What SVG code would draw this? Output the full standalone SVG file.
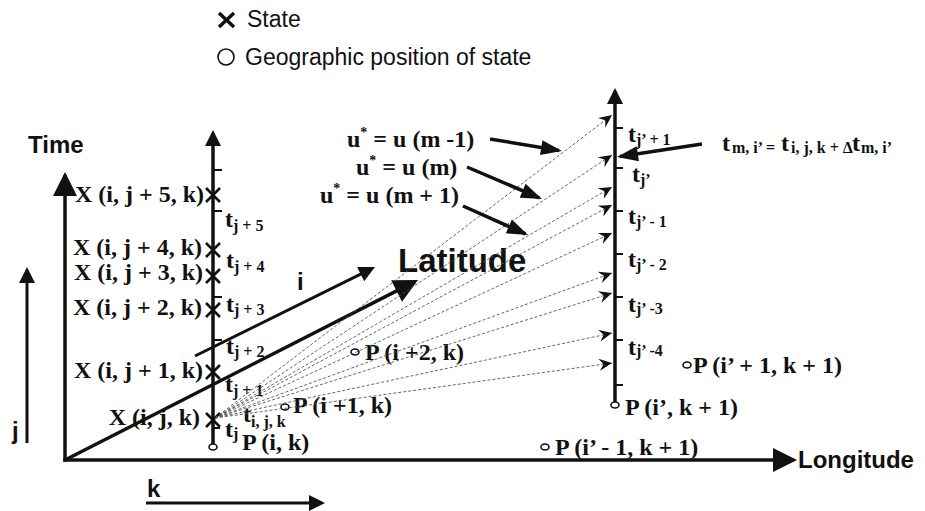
<svg xmlns="http://www.w3.org/2000/svg" width="925" height="511" viewBox="0 0 925 511">
<style>
.ln{stroke:#111;fill:none;stroke-linecap:butt}
.ax{stroke-width:3.5}
.th{stroke-width:3}
.tk{stroke:#111;stroke-width:2}
.dash{stroke:#555;stroke-width:0.9;stroke-dasharray:3 2;fill:none}
.cross{stroke:#111;stroke-width:2.6}
.dot{fill:#fff;stroke:#111;stroke-width:1.6}
.hd{fill:#111;stroke:none}
.sv{font-family:"Liberation Serif","Times New Roman",serif;font-weight:bold;font-size:24px;fill:#111}
.sub{font-size:16px}
.sup{font-size:14px}
.sans{font-family:"Liberation Sans",Arial,sans-serif;font-weight:bold;font-size:24px;fill:#111}
.leg{font-family:"Liberation Sans",Arial,sans-serif;font-size:23px;fill:#111}
</style>
<defs>
<marker id="ahBig" viewBox="-26 -13 28 26" refX="-3" refY="0" markerWidth="28" markerHeight="26" markerUnits="userSpaceOnUse" orient="auto"><path class="hd" d="M0,0 L-24,-12 L-24,12 z"/></marker>
<marker id="ahMed" viewBox="-18 -9 20 18" refX="-3" refY="0" markerWidth="20" markerHeight="18" markerUnits="userSpaceOnUse" orient="auto"><path class="hd" d="M0,0 L-16,-8 L-16,8 z"/></marker>
<marker id="ahU" viewBox="-23 -9 25 18" refX="-3" refY="0" markerWidth="25" markerHeight="18" markerUnits="userSpaceOnUse" orient="auto"><path class="hd" d="M0,0 L-21,-7.5 L-21,7.5 z"/></marker>
<marker id="ahDash" viewBox="-15 -7 17 14" refX="0" refY="0" markerWidth="17" markerHeight="14" markerUnits="userSpaceOnUse" orient="auto"><path class="hd" d="M0,0 L-13,-6 L-8.5,0 L-13,6 z"/></marker>
</defs>
<rect width="925" height="511" fill="#fff"/>

<g id="legend">
<line class="cross" x1="219" y1="13" x2="234" y2="27" style="stroke-width:3.5"/>
<line class="cross" x1="234" y1="13" x2="219" y2="27" style="stroke-width:3.5"/>
<text class="leg" x="247" y="27">State</text>
<circle class="dot" cx="226" cy="57" r="8"/>
<text class="leg" x="245" y="65">Geographic position of state</text>
</g>

<g id="main-axes">
<line class="ln ax" x1="65" y1="461.7" x2="65" y2="175" marker-end="url(#ahBig)"/>
<line class="ln ax" x1="63.3" y1="460" x2="794" y2="460" marker-end="url(#ahBig)"/>
<line class="ln ax" x1="65" y1="460" x2="415.3" y2="281.4" marker-end="url(#ahBig)"/>
<text class="sans" x="28" y="153">Time</text>
<text class="sans" x="798" y="468">Longitude</text>
<text class="sans" x="398" y="272" style="font-size:33px">Latitude</text>
</g>

<g id="direction-arrows">
<line class="ln th" x1="195" y1="356" x2="372.3" y2="268.3" marker-end="url(#ahMed)"/>
<text class="sans" x="297" y="290">i</text>
<line class="ln th" x1="27" y1="443" x2="27" y2="270" marker-end="url(#ahMed)"/>
<text class="sans" x="12" y="439">j</text>
<line class="ln th" x1="146" y1="503" x2="322" y2="503" marker-end="url(#ahMed)"/>
<text class="sans" x="147" y="497">k</text>
</g>

<g id="time-axis-left">
<line class="ln ax" x1="213" y1="444" x2="213" y2="133" marker-end="url(#ahMed)"/>
<line class="tk" x1="213" y1="170" x2="222" y2="170"/>
<line class="tk" x1="213" y1="211" x2="222" y2="211"/>
<line class="tk" x1="213" y1="297" x2="222" y2="297"/>
<line class="tk" x1="213" y1="340" x2="222" y2="340"/>
<line class="tk" x1="213" y1="428" x2="220" y2="428"/>
<ellipse class="dot" cx="213" cy="447" rx="4" ry="3"/>
</g>

<g id="states">
<path class="cross" d="M206,188 L220,202 M220,188 L206,202"/>
<path class="cross" d="M206,243 L220,257 M220,243 L206,257"/>
<path class="cross" d="M206,269 L220,283 M220,269 L206,283"/>
<path class="cross" d="M206,303 L220,317 M220,303 L206,317"/>
<path class="cross" d="M206,365 L220,379 M220,365 L206,379"/>
<path class="cross" d="M206,413 L220,427 M220,413 L206,427"/>
<text class="sv" x="204" y="202" text-anchor="end">X (i, j + 5, k)</text>
<text class="sv" x="202" y="255" text-anchor="end">X (i, j + 4, k)</text>
<text class="sv" x="203" y="280" text-anchor="end">X (i, j + 3, k)</text>
<text class="sv" x="202" y="315" text-anchor="end">X (i, j + 2, k)</text>
<text class="sv" x="203" y="378" text-anchor="end">X (i, j + 1, k)</text>
<text class="sv" x="200" y="425" text-anchor="end">X (i, j, k)</text>
</g>

<g id="time-labels-left">
<text class="sv" x="225" y="227">t<tspan class="sub" dy="4">j + 5</tspan></text>
<text class="sv" x="226" y="268">t<tspan class="sub" dy="4">j + 4</tspan></text>
<text class="sv" x="226" y="312">t<tspan class="sub" dy="3">j + 3</tspan></text>
<text class="sv" x="226" y="354">t<tspan class="sub" dy="3">j + 2</tspan></text>
<text class="sv" x="225" y="392">t<tspan class="sub" dy="4">j + 1</tspan></text>
<text class="sv" x="243" y="422">t<tspan class="sub" dy="5">i, j, k</tspan></text>
<text class="sv" x="225" y="437">t<tspan class="sub" dy="2">j</tspan></text>
<text class="sv" x="242" y="450">P (i, k)</text>
</g>

<g id="time-axis-right">
<line class="ln ax" x1="615" y1="402" x2="615" y2="91" marker-end="url(#ahMed)"/>
<line class="tk" x1="615" y1="128" x2="623" y2="128"/>
<line class="tk" x1="615" y1="168" x2="623" y2="168"/>
<line class="tk" x1="615" y1="211" x2="623" y2="211"/>
<line class="tk" x1="615" y1="254" x2="623" y2="254"/>
<line class="tk" x1="615" y1="297" x2="623" y2="297"/>
<line class="tk" x1="615" y1="340" x2="623" y2="340"/>
<line class="tk" x1="615" y1="385" x2="623" y2="385"/>
<ellipse class="dot" cx="615" cy="405" rx="4" ry="3"/>
<text class="sv" x="628" y="142">t<tspan class="sub" dy="3">j’ + 1</tspan></text>
<text class="sv" x="632" y="182">t<tspan class="sub" dy="3">j’</tspan></text>
<text class="sv" x="628" y="224">t<tspan class="sub" dy="3">j’ - 1</tspan></text>
<text class="sv" x="628" y="267">t<tspan class="sub" dy="3">j’ - 2</tspan></text>
<text class="sv" x="628" y="312">t<tspan class="sub" dy="2">j’ -3</tspan></text>
<text class="sv" x="628" y="355">t<tspan class="sub" dy="1">j’ -4</tspan></text>
</g>

<g id="positions">
<ellipse class="dot" cx="285" cy="407" rx="4" ry="3"/>
<text class="sv" x="293" y="413">P (i +1, k)</text>
<ellipse class="dot" cx="355" cy="352" rx="4" ry="3"/>
<text class="sv" x="365" y="360">P (i +2, k)</text>
<ellipse class="dot" cx="687" cy="365" rx="4" ry="3"/>
<text class="sv" x="693" y="373">P (i’ + 1, k + 1)</text>
<text class="sv" x="625" y="415">P (i’, k + 1)</text>
<ellipse class="dot" cx="545" cy="447" rx="4" ry="3"/>
<text class="sv" x="555" y="455">P (i’ - 1, k + 1)</text>
</g>

<g id="connectors">
<line class="dash" x1="215" y1="418" x2="612" y2="115" marker-end="url(#ahDash)"/>
<line class="dash" x1="215" y1="418" x2="612" y2="155" marker-end="url(#ahDash)"/>
<line class="dash" x1="215" y1="418" x2="612" y2="187" marker-end="url(#ahDash)"/>
<line class="dash" x1="215" y1="418" x2="612" y2="205" marker-end="url(#ahDash)"/>
<line class="dash" x1="215" y1="418" x2="612" y2="233" marker-end="url(#ahDash)"/>
<line class="dash" x1="215" y1="418" x2="612" y2="273" marker-end="url(#ahDash)"/>
<line class="dash" x1="215" y1="418" x2="612" y2="293" marker-end="url(#ahDash)"/>
<line class="dash" x1="215" y1="418" x2="612" y2="333" marker-end="url(#ahDash)"/>
<line class="dash" x1="215" y1="418" x2="612" y2="363" marker-end="url(#ahDash)"/>
<line class="ln ax" x1="490" y1="139" x2="559" y2="150.5" marker-end="url(#ahU)"/>
<line class="ln ax" x1="467" y1="167" x2="539.2" y2="197.8" marker-end="url(#ahU)"/>
<line class="ln ax" x1="463" y1="206" x2="525.3" y2="233.8" marker-end="url(#ahU)"/>
<line class="ln ax" x1="702" y1="144" x2="620" y2="156.5" marker-end="url(#ahU)"/>
</g>

<g id="speed-labels">
<text class="sv" x="347" y="147">u<tspan class="sup" dy="-10">*</tspan><tspan dy="10"> = u (m -1)</tspan></text>
<text class="sv" x="356" y="175">u<tspan class="sup" dy="-10">*</tspan><tspan dy="10"> = u (m)</tspan></text>
<text class="sv" x="320" y="203">u<tspan class="sup" dy="-10">*</tspan><tspan dy="10"> = u (m + 1)</tspan></text>
</g>

<g id="formula">
<text class="sv" y="151"><tspan x="722">t</tspan><tspan class="sub" x="732" dy="2">m, i’ =</tspan><tspan x="781" dy="-2">t</tspan><tspan class="sub" x="791" dy="2">i, j, k + Δ</tspan><tspan x="852" dy="-2">t</tspan><tspan class="sub" x="861" dy="2">m, i’</tspan></text>
</g>
</svg>
